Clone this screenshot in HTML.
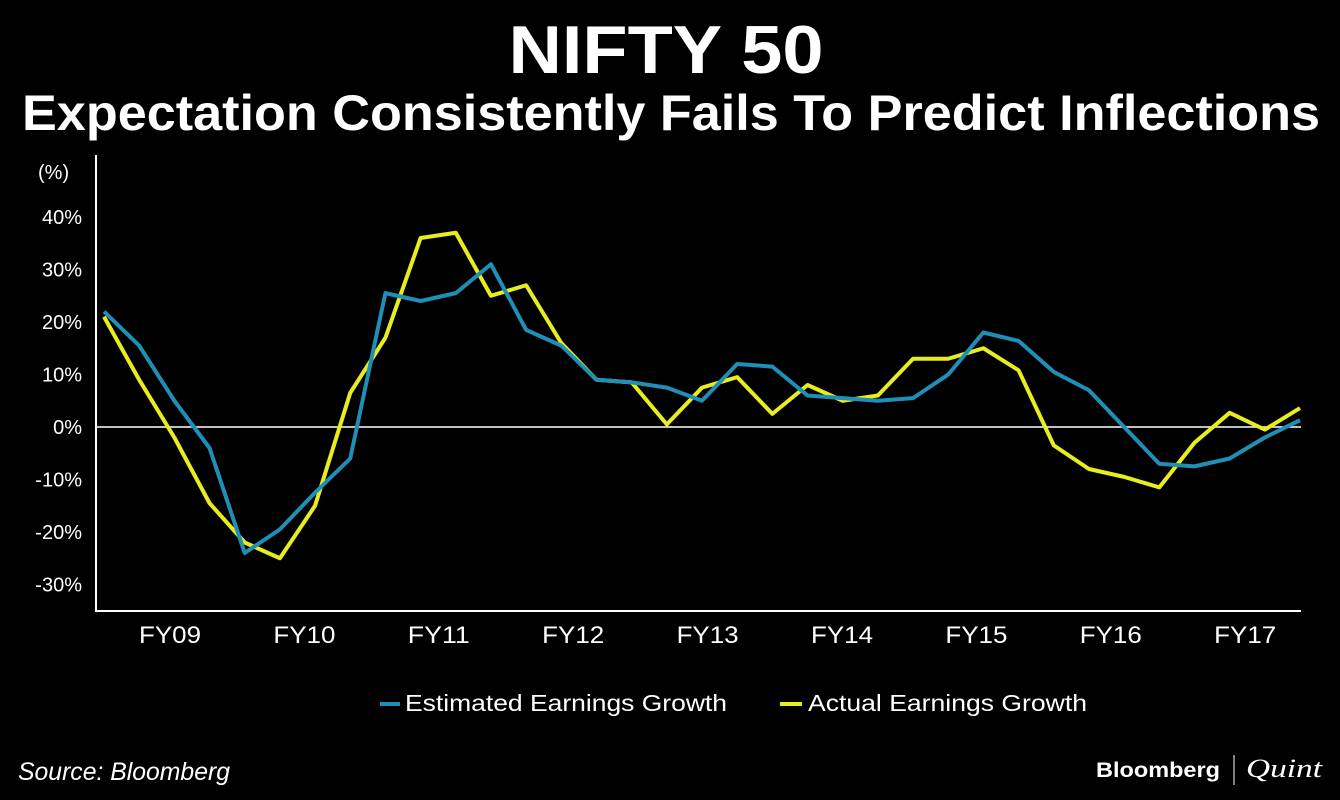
<!DOCTYPE html>
<html><head><meta charset="utf-8"><style>
html,body{margin:0;padding:0;background:#000;width:1340px;height:800px;overflow:hidden}
svg{display:block;font-family:"Liberation Sans",sans-serif}
</style></head><body>
<svg id="c" width="1340" height="800" viewBox="0 0 1340 800">
<text x="666" y="73" fill="#fff" font-size="68" font-weight="bold" text-anchor="middle" textLength="315" lengthAdjust="spacingAndGlyphs">NIFTY 50</text>
<text x="671" y="130" fill="#fff" font-size="50" font-weight="bold" text-anchor="middle" textLength="1298" lengthAdjust="spacingAndGlyphs">Expectation Consistently Fails To Predict Inflections</text>
<text x="38" y="179" fill="#fff" font-size="20">(%)</text>
<line x1="96" y1="155" x2="96" y2="611" stroke="#fff" stroke-width="2"/>
<line x1="95" y1="611" x2="1301" y2="611" stroke="#fff" stroke-width="2"/>
<g id="yt"></g><g id="xt"></g><g id="ser"></g>
<line x1="380" y1="704" x2="400" y2="704" stroke="#1f8fb8" stroke-width="4"/>
<text x="405" y="711" fill="#fff" font-size="23" textLength="322" lengthAdjust="spacingAndGlyphs">Estimated Earnings Growth</text>
<line x1="780" y1="704" x2="802" y2="704" stroke="#e8ee1e" stroke-width="4"/>
<text x="808" y="711" fill="#fff" font-size="23" textLength="279" lengthAdjust="spacingAndGlyphs">Actual Earnings Growth</text>
<text x="18" y="780" fill="#fff" font-size="25" font-style="italic" textLength="212" lengthAdjust="spacingAndGlyphs">Source: Bloomberg</text>
<text x="1096" y="777" fill="#fff" font-size="21" font-weight="bold" textLength="124" lengthAdjust="spacingAndGlyphs">Bloomberg</text>
<line x1="1234" y1="755" x2="1234" y2="785" stroke="#fff" stroke-width="1"/>
<text x="1246" y="777" fill="#fff" font-size="26" font-style="italic" font-family="Liberation Serif,serif" textLength="76" lengthAdjust="spacingAndGlyphs">Quint</text>
</svg>
<script>
const yTicks=[40,30,20,10,0,-10,-20,-30];
const yLabels=["40%","30%","20%","10%","0%","-10%","-20%","-30%"];
const fyLabels=["FY09","FY10","FY11","FY12","FY13","FY14","FY15","FY16","FY17"];
const estimated=[22,15.5,5,-4,-24,-19.5,-12.5,-6,25.5,24,25.5,31,18.5,15.5,9,8.5,7.5,5,12,11.5,6,5.5,5,5.5,10,18,16.4,10.5,7,0,-7,-7.5,-6,-2,1.3];
const actual=[21,9,-2,-14.5,-22,-25,-15,6.5,17,36,37,25,27,16,9,8.5,0.5,7.5,9.5,2.5,8,5,6,13,13,15,10.8,-3.5,-8,-9.5,-11.5,-3,2.7,-0.5,3.6];
const NS="http://www.w3.org/2000/svg";
const y=v=>427-v*5.25;
const n=actual.length;
const x=i=>104+i*(1300-104)/(n-1);
const fyX=k=>170+k*134.4;
function mk(t,a,p){const e=document.createElementNS(NS,t);for(const k in a)e.setAttribute(k,a[k]);p.appendChild(e);return e;}
const yt=document.getElementById('yt');
yTicks.forEach((v,i)=>{const t=mk('text',{x:82,y:y(v)+7,fill:'#fff','font-size':20,'text-anchor':'end'},yt);t.textContent=yLabels[i];

});
const z=mk('line',{x1:96,x2:1301,y1:y(0),y2:y(0),stroke:'#fff','stroke-width':1.5},yt);


const xt=document.getElementById('xt');
fyLabels.forEach((l,k)=>{const t=mk('text',{x:fyX(k),y:643,fill:'#fff','font-size':24,'text-anchor':'middle',textLength:62,lengthAdjust:'spacingAndGlyphs'},xt);t.textContent=l;

});
const ser=document.getElementById('ser');
function line(d,c,name){const p=mk('polyline',{points:d.map((v,i)=>x(i)+','+y(v)).join(' '),fill:'none',stroke:c,'stroke-width':4,'stroke-linejoin':'round'},ser);

}
line(actual,'#e8ee1e','actual-earnings-line');
line(estimated,'#1f8fb8','estimated-earnings-line');
</script>
</body></html>
